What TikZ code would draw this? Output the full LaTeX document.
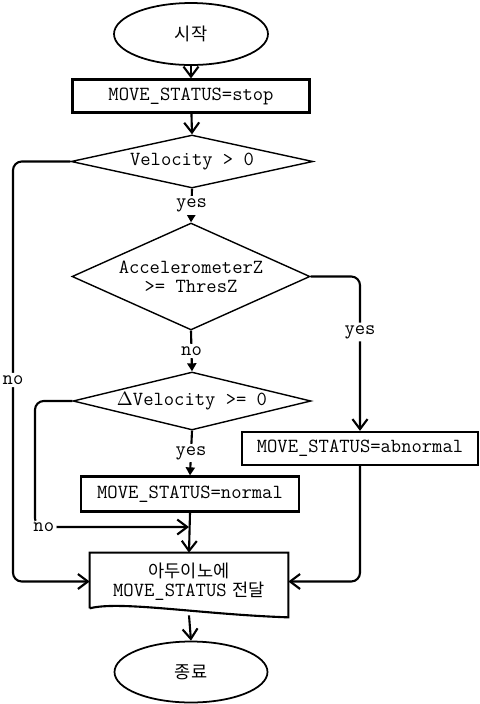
\documentclass[tikz,border=0pt]{standalone}
\usepackage{fontspec}
\newfontfamily\krfont{Noto Sans CJK KR}
\usetikzlibrary{shapes.geometric, arrows.meta, positioning}

\newcommand\flowtt{\ttfamily\fontsize{11.4}{10.8}\selectfont}

\tikzset{
  flow/.style={line width=1.2pt, rounded corners=5pt, -{Straight Barb[length=2mm,width=3mm]}},
  short/.style={line width=1.2pt, -{Triangle[length=1.6mm,width=1.8mm]}},
  lbl/.style={fill=white, inner sep=1.5pt, font=\flowtt},
  term/.style={draw, ellipse, line width=1pt, minimum width=3.08cm, minimum height=1.24cm, font=\krfont\fontsize{10}{10.5}\selectfont},
  procbox/.style={draw, rectangle, line width=1.3pt, minimum height=0.66cm, inner sep=0pt, font=\flowtt},
  decision/.style={draw, diamond, line width=0.8pt, inner sep=0pt, align=center, font=\flowtt},
  docbox/.style={minimum width=3.96cm, minimum height=1.14cm, inner sep=0pt, align=center, font=\fontsize{10}{10.8}\selectfont}
}

\begin{document}
\begin{tikzpicture}[x=0.02cm, y=-0.02cm]
    \useasboundingbox (0,0) rectangle (480,704);

    % Start / end
    \node[term] (start) at (191,34) {시작};
    \node[term, minimum width=3.06cm, minimum height=1.22cm] (finish) at (191,672) {종료};

    % Process boxes
    \node[procbox, minimum width=4.74cm] (stop) at (191,96) {MOVE\_STATUS=stop};
    \node[procbox, minimum width=4.36cm, minimum height=0.7cm] (normal) at (190,494) {MOVE\_STATUS=normal};
    \node[procbox, minimum width=4.72cm] (abnormal) at (360,448.5) {MOVE\_STATUS=abnormal};

    % Decisions
    \node[decision, minimum width=4.84cm, minimum height=1.06cm, shape aspect=4.57] (vel) at (192,161.5) {Velocity > 0};
    \node[decision, minimum width=4.76cm, minimum height=2.14cm, shape aspect=2.22] (acc) at (191,276.5) {AccelerometerZ\\>= ThresZ};
    \node[decision, minimum width=4.76cm, minimum height=1.16cm, shape aspect=4.1] (dvel) at (192,401) {$\Delta$Velocity >= 0};

    % Document (send to Arduino)
    \node[docbox] (send) at (189,581.5) {\krfont 아두이노에\\{\flowtt MOVE\_STATUS} {\krfont 전달}};
    \draw[line width=1.2pt] ([yshift=0.04cm]send.south west) -- (send.north west) -- (send.north east)
        -- ([yshift=-0.14cm]send.south east)
        .. controls ([xshift=0.22cm,yshift=-0.08cm]send.south) and ([xshift=-1.38cm,yshift=0.2cm]send.south) .. ([yshift=0.04cm]send.south west);

    % Lanes and joins
    \coordinate (lane1) at (13,0);
    \coordinate (lane2) at (35,0);
    \coordinate (join) at (189,527);

    % Main flow
    \draw[flow] (start) -- (stop);
    \draw[flow] (stop) -- (vel.north);
    \draw[short] (vel.south) -- node[lbl] {yes} (acc.north);
    \draw[short] (acc.south) -- node[lbl] {no} (dvel.north);
    \draw[short] (dvel.south) -- node[lbl] {yes} (normal.north);
    \draw[flow] (normal.south) -- (send.north);
    \draw[flow] ([yshift=-0.1cm]send.south) -- (finish.north);

    % Branches
    \draw[flow] (acc.east) -| node[lbl, pos=0.68] {yes} (abnormal.north);
    \draw[flow] (abnormal.south) |- (send.east);
    \draw[flow] (vel.west) -| node[lbl, pos=0.76] {no} (lane1 |- send.west) -- (send.west);
    \draw[flow] (dvel.west) -| node[lbl, pos=1, xshift=5pt] {no} (lane2 |- join) -- (join);
\end{tikzpicture}
\end{document}
